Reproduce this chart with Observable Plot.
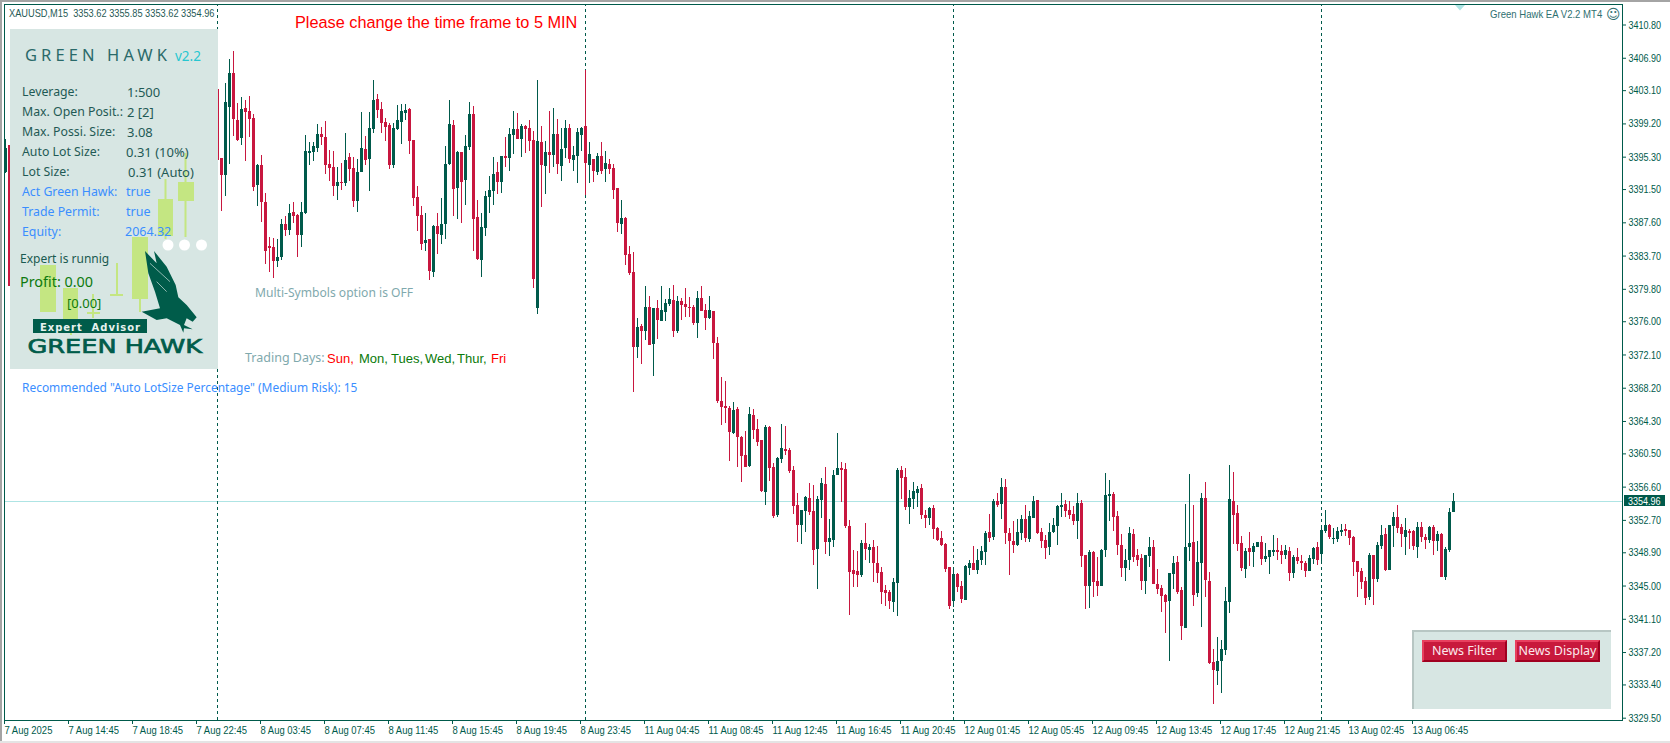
<!DOCTYPE html>
<html>
<head>
<meta charset="utf-8">
<script src="https://cdn.jsdelivr.net/npm/d3@7"></script>
<script src="https://cdn.jsdelivr.net/npm/@observablehq/plot@0.6"></script>
<style>
html,body{margin:0;padding:0;background:#fff;overflow:hidden}
#root{position:relative;width:1670px;height:743px;overflow:hidden;background:#fff}
#root svg{display:block}
.ov{position:absolute;white-space:nowrap;transform:translateY(-50%);line-height:1}
.box{position:absolute;box-sizing:border-box}
.chartfont text{font-family:"Liberation Sans",sans-serif;font-size:11px}
</style>
</head>
<body>
<div id="root"></div>
<script>
// Chart values: bars 0-1, then bars 53-362 (bars 2-52 are behind the panel)
const highs=[3397.4,3396.7,3403.2,
3395.1,3403.9,3406.8,3407.7,3401.6,3402.3,3401.9,3402.4,3400.3,3394.4,
3395.5,3391.0,3385.9,3385.8,3385.6,3388.0,3388.3,3389.7,3390.0,3388.6,
3390.0,3397.8,3397.0,3397.0,3399.1,3398.8,3399.5,3396.1,3396.0,3394.1,
3394.6,3398.1,3395.7,3395.3,3395.0,3400.5,3397.7,3400.5,3404.3,3402.6,
3401.7,3399.8,3399.2,3399.2,3401.4,3401.5,3401.5,3401.0,3397.3,3391.9,
3389.5,3388.7,3385.6,
3387.3,3388.7,3390.5,3396.6,3402.0,3399.6,3396.0,3395.9,3397.8,3401.7,
3401.2,3390.2,3388.7,3391.3,3393.0,3395.3,3394.7,3395.4,3397.6,3398.7,
3400.7,3400.4,3399.1,3399.0,3399.6,3398.3,3404.3,3398.9,3397.1,3400.7,
3401.0,3399.7,3398.7,3399.6,3399.1,3396.6,3398.7,3398.8,3405.5,3397.0,
3395.0,3395.7,3397.0,3396.0,3395.0,3394.4,3391.6,3390.2,3388.2,3384.8,
3384.1,3376.4,3375.7,3380.1,3379.0,3377.6,3378.5,3380.1,3378.6,3379.9,
3380.3,3379.0,3378.7,3379.9,3378.8,3377.9,3379.6,3380.1,3378.0,3379.0,
3377.2,3374.2,3369.5,3369.0,3366.1,3366.5,3365.9,3362.5,3363.1,3365.9,
3365.7,3364.5,3362.1,3363.8,3363.7,3359.4,3360.1,3364.0,3363.7,3361.1,
3359.0,3355.9,3353.9,3355.5,3357.0,3356.8,3355.5,3357.6,3358.9,3352.8,
3358.6,3362.9,3359.5,3359.4,3352.7,3349.2,3349.0,3350.3,3352.3,3349.9,
3350.3,3349.6,3347.2,3345.1,3344.5,3345.9,3358.8,3359.0,3358.8,3356.2,
3357.2,3356.7,3356.9,3353.9,3354.2,3354.5,3351.9,3351.4,3350.0,3347.2,
3347.1,3346.5,3345.5,3347.4,3348.0,3349.6,3349.3,3349.6,3351.4,3353.4,
3355.2,3355.9,3357.6,3357.5,3351.8,3352.6,3352.8,3353.3,3354.5,3353.7,
3355.5,3355.0,3351.8,3350.9,3352.3,3352.9,3354.5,3355.9,3355.0,3354.9,
3354.3,3355.9,3355.0,3348.6,3349.2,3349.0,3348.3,3349.3,3358.2,3357.4,
3356.0,3353.7,3351.1,3349.3,3351.9,3351.6,3349.3,3348.7,3348.6,3350.7,
3350.3,3346.9,3345.1,3344.0,3346.5,3348.5,3348.5,3344.8,3354.6,3358.1,
3354.5,3350.2,3355.9,3357.1,3346.6,3337.6,3339.0,3338.6,3344.8,3359.1,
3358.3,3354.5,3350.8,3349.4,3351.3,3350.0,3350.1,3350.8,3350.0,3349.2,
3350.9,3350.6,3349.8,3349.8,3349.5,3348.6,3349.4,3348.6,3347.9,3348.6,
3349.5,3350.1,3352.0,3353.9,3352.2,3351.7,3351.9,3352.2,3352.2,3351.5,
3350.8,3347.9,3347.1,3346.0,3348.8,3348.6,3350.1,3352.1,3351.7,3352.1,
3353.6,3354.4,3352.2,3352.9,3351.6,3351.5,3352.5,3352.5,3351.0,3352.0,
3352.1,3351.4,3351.2,3349.5,3354.1,3355.85];
const lows=[3393.4,3380.1,3394.9,
3388.9,3390.7,3394.4,3397.7,3397.1,3396.7,3394.8,3397.6,3391.3,3389.5,
3387.6,3382.7,3381.8,3381.1,3382.4,3383.2,3386.0,3386.1,3387.5,3383.5,
3384.7,3388.6,3394.3,3394.8,3395.8,3396.7,3393.3,3392.4,3390.7,3390.2,
3391.4,3391.9,3392.4,3389.4,3388.8,3393.5,3394.3,3391.3,3398.1,3399.8,
3398.1,3397.1,3393.9,3394.0,3398.4,3396.8,3399.6,3395.6,3389.5,3386.6,
3384.3,3384.2,3380.8,
3381.2,3383.9,3385.1,3385.6,3394.3,3388.3,3388.0,3387.5,3389.6,3396.1,
3384.2,3383.2,3381.2,3386.0,3388.7,3389.6,3390.9,3391.0,3394.1,3393.6,
3395.6,3397.4,3395.3,3395.7,3396.0,3379.9,3376.9,3389.4,3390.9,3393.4,
3394.1,3393.3,3392.4,3395.1,3394.6,3393.6,3392.2,3396.0,3390.8,3392.2,
3392.3,3393.2,3393.3,3392.3,3393.3,3390.3,3386.5,3386.2,3382.6,3381.4,
3367.7,3371.7,3371.0,3373.8,3373.2,3369.6,3373.9,3376.0,3376.0,3377.8,
3374.2,3374.6,3376.1,3376.5,3376.5,3375.6,3374.0,3377.2,3375.0,3376.3,
3371.6,3366.4,3363.8,3364.1,3359.6,3362.8,3358.9,3357.1,3358.9,3358.9,
3362.2,3361.4,3356.0,3354.4,3357.3,3352.9,3353.0,3359.4,3360.3,3358.2,
3353.4,3350.1,3349.9,3351.3,3353.3,3347.4,3344.6,3352.9,3348.7,3348.5,
3349.5,3358.0,3354.8,3351.7,3341.5,3344.8,3344.8,3346.0,3348.0,3347.6,
3345.4,3345.3,3342.8,3342.6,3342.3,3341.9,3341.4,3355.2,3353.9,3352.2,
3354.0,3354.2,3352.8,3351.8,3352.1,3350.5,3350.2,3349.6,3346.6,3342.3,
3342.5,3344.2,3343.0,3343.3,3346.2,3346.8,3346.4,3347.4,3347.4,3350.1,
3350.3,3354.2,3352.8,3349.9,3346.2,3348.8,3349.6,3350.3,3350.1,3350.1,
3352.9,3351.1,3349.4,3348.1,3348.6,3351.2,3349.8,3353.0,3353.0,3352.8,
3352.1,3350.5,3347.2,3342.3,3342.4,3343.7,3343.8,3345.0,3348.3,3352.6,
3351.4,3348.6,3346.0,3345.5,3346.8,3347.8,3347.3,3344.5,3344.0,3347.2,
3345.2,3344.0,3341.9,3339.4,3336.1,3344.6,3344.0,3338.6,3340.0,3347.9,
3342.6,3343.7,3340.1,3343.7,3335.8,3331.1,3333.3,3332.4,3336.9,3341.8,
3349.9,3349.1,3346.7,3345.9,3347.3,3347.2,3349.5,3347.4,3347.8,3346.4,
3348.5,3348.0,3347.5,3348.1,3345.5,3345.9,3347.5,3346.8,3346.0,3346.7,
3347.5,3347.4,3347.5,3351.2,3350.5,3349.9,3350.1,3350.8,3350.8,3349.8,
3346.1,3343.7,3344.6,3342.7,3343.3,3342.7,3345.4,3349.3,3346.7,3346.8,
3349.5,3351.2,3349.5,3348.6,3349.3,3349.2,3348.2,3350.1,3349.3,3350.0,
3348.6,3349.1,3346.0,3345.7,3348.9,3353.62];
const opens=[3393.5,3396.7,3403.2,
3395.1,3393.1,3401.1,3405.1,3399.6,3397.5,3401.0,3400.6,3399.8,3392.0,
3394.3,3390.0,3384.8,3384.7,3383.1,3383.5,3387.4,3386.7,3388.8,3388.5,
3386.1,3388.7,3395.7,3395.8,3396.3,3398.0,3397.6,3394.4,3394.1,3391.9,
3392.3,3392.2,3395.3,3394.0,3390.1,3393.5,3396.2,3395.0,3398.5,3402.1,
3400.9,3399.4,3399.0,3394.3,3398.5,3399.4,3400.4,3400.9,3397.3,3390.6,
3388.5,3385.2,3385.6,
3381.8,3387.2,3386.1,3387.4,3394.4,3399.0,3391.6,3395.9,3392.6,3396.4,
3400.3,3388.2,3383.2,3386.9,3390.6,3391.3,3393.5,3392.3,3395.4,3395.1,
3397.8,3398.6,3397.4,3398.9,3398.7,3397.3,3377.6,3397.0,3394.2,3395.9,
3395.5,3398.0,3394.2,3396.3,3398.7,3394.9,3395.4,3397.8,3398.9,3394.3,
3395.0,3393.5,3395.4,3393.9,3394.4,3394.0,3391.6,3387.4,3388.1,3383.9,
3381.8,3373.0,3375.4,3374.9,3377.7,3373.3,3377.6,3376.0,3377.1,3378.0,
3378.5,3374.9,3378.4,3378.0,3377.7,3377.7,3375.8,3378.7,3377.3,3376.4,
3377.2,3373.4,3366.6,3366.1,3365.8,3362.9,3365.7,3362.4,3360.3,3359.0,
3365.0,3363.4,3362.1,3356.0,3363.6,3358.9,3353.3,3359.8,3361.0,3360.9,
3358.6,3354.4,3352.1,3353.7,3355.3,3353.7,3349.3,3355.0,3356.9,3350.1,
3350.3,3358.0,3358.8,3358.7,3352.0,3346.8,3346.7,3346.2,3350.0,3349.2,
3349.5,3347.6,3346.6,3344.5,3344.2,3343.1,3345.3,3358.6,3357.7,3354.2,
3355.2,3355.9,3356.4,3353.3,3352.9,3354.1,3351.8,3350.6,3349.9,3347.2,
3343.2,3346.4,3345.0,3343.3,3347.1,3347.6,3346.8,3348.0,3348.9,3351.3,
3350.7,3354.9,3354.6,3356.6,3351.2,3350.2,3349.8,3351.2,3352.8,3350.5,
3352.9,3355.0,3351.3,3350.3,3349.5,3351.3,3352.0,3354.2,3354.6,3353.9,
3353.4,3352.6,3354.7,3348.6,3345.0,3348.9,3345.5,3345.0,3349.2,3355.5,
3355.7,3353.2,3349.8,3347.1,3348.0,3351.1,3348.6,3348.2,3345.5,3348.5,
3349.5,3345.2,3344.7,3343.9,3343.2,3346.4,3347.8,3344.5,3340.0,3349.5,
3350.1,3344.1,3347.6,3355.3,3345.5,3336.0,3335.0,3336.1,3337.4,3343.1,
3354.9,3353.5,3350.0,3346.9,3349.4,3348.9,3349.5,3350.1,3348.1,3348.3,
3348.9,3349.2,3349.1,3348.6,3349.1,3346.5,3348.3,3347.9,3347.6,3346.7,
3348.1,3349.5,3348.7,3351.4,3352.1,3350.5,3350.5,3351.3,3351.6,3351.5,
3350.7,3347.9,3346.7,3345.5,3343.7,3348.6,3345.8,3349.6,3351.0,3346.8,
3352.0,3353.0,3351.9,3350.7,3351.4,3351.4,3349.5,3351.9,3350.7,3350.3,
3351.9,3350.2,3351.0,3346.0,3349.2,3353.62];
const closes=[3396.3,3380.1,3394.9,
3393.1,3401.7,3405.1,3399.7,3397.3,3400.9,3400.5,3399.7,3391.7,3394.3,
3390.0,3384.2,3384.6,3383.1,3383.5,3387.4,3386.7,3388.7,3388.3,3386.1,
3388.8,3396.0,3396.0,3396.5,3398.0,3397.6,3394.3,3394.0,3391.9,3392.3,
3392.2,3394.9,3393.9,3390.1,3393.5,3396.3,3394.9,3398.7,3401.9,3400.8,
3399.2,3398.8,3394.3,3398.7,3399.6,3400.6,3400.8,3397.1,3390.4,3388.3,
3385.0,3385.5,3381.9,
3387.2,3386.2,3387.4,3394.4,3399.1,3391.5,3395.9,3392.3,3396.6,3400.3,
3388.0,3383.3,3387.1,3390.7,3391.4,3393.3,3392.3,3395.4,3395.1,3398.0,
3398.6,3397.4,3398.9,3398.6,3397.1,3381.0,3397.1,3394.3,3395.9,3395.5,
3398.0,3394.4,3396.2,3398.7,3395.0,3395.5,3398.2,3398.7,3394.6,3395.6,
3393.6,3395.4,3393.6,3394.6,3393.9,3391.4,3387.5,3388.1,3383.8,3381.7,
3373.0,3375.3,3374.9,3377.7,3373.2,3377.6,3376.1,3377.3,3378.1,3378.6,
3374.9,3378.4,3377.9,3377.7,3377.6,3375.8,3378.7,3377.2,3376.4,3377.3,
3373.4,3366.6,3365.9,3365.8,3363.0,3365.6,3362.4,3360.2,3358.9,3365.1,
3363.2,3361.8,3356.1,3363.6,3358.8,3353.2,3360.0,3361.1,3360.8,3358.4,
3354.3,3352.1,3353.9,3355.4,3353.6,3349.2,3355.1,3357.0,3350.1,3350.6,
3358.0,3358.8,3358.6,3352.0,3346.6,3346.4,3346.2,3350.0,3349.3,3349.5,
3347.6,3346.5,3344.2,3344.1,3343.2,3345.4,3358.6,3357.6,3354.2,3355.3,
3356.1,3356.3,3353.3,3352.9,3354.1,3351.6,3350.3,3349.8,3346.9,3342.6,
3346.4,3344.8,3343.4,3347.3,3347.6,3346.8,3348.0,3349.1,3351.2,3350.6,
3354.9,3354.5,3356.6,3351.2,3350.2,3349.8,3351.3,3352.8,3350.6,3353.2,
3354.9,3351.2,3350.2,3349.4,3351.3,3352.1,3354.3,3354.5,3353.7,3353.3,
3352.6,3354.7,3348.5,3345.0,3348.9,3345.4,3345.0,3349.2,3355.6,3355.7,
3353.0,3349.8,3347.1,3348.0,3351.2,3348.3,3348.0,3345.5,3348.6,3349.5,
3345.2,3344.6,3343.8,3343.1,3346.5,3347.6,3344.2,3340.3,3349.5,3350.0,
3343.9,3347.8,3355.3,3345.6,3335.9,3335.1,3336.1,3337.6,3343.2,3355.2,
3353.3,3349.9,3347.1,3349.1,3348.9,3349.6,3350.1,3348.1,3348.5,3349.2,
3349.2,3348.9,3348.6,3349.2,3346.5,3348.3,3347.9,3347.6,3346.7,3348.2,
3349.4,3348.0,3351.5,3352.1,3350.7,3350.6,3351.4,3351.5,3351.4,3350.6,
3347.8,3346.6,3345.4,3343.5,3348.6,3345.8,3349.8,3350.9,3346.8,3352.1,
3353.0,3351.8,3351.0,3351.5,3351.2,3349.6,3351.9,3350.7,3350.3,3351.9,
3350.2,3351.0,3346.0,3349.3,3353.6,3354.96];
const HIDDEN_BARS = 51;
const priceTicks=[3410.8,3406.9,3403.1,3399.2,3395.3,3391.5,3387.6,3383.7,3379.8,3376.0,3372.1,3368.2,3364.3,3360.5,3356.6,3352.7,3348.9,3345.0,3341.1,3337.2,3333.4,3329.5];
const timeLabels=["7 Aug 2025","7 Aug 14:45","7 Aug 18:45","7 Aug 22:45","8 Aug 03:45","8 Aug 07:45","8 Aug 11:45","8 Aug 15:45","8 Aug 19:45","8 Aug 23:45","11 Aug 04:45","11 Aug 08:45","11 Aug 12:45","11 Aug 16:45","11 Aug 20:45","12 Aug 01:45","12 Aug 05:45","12 Aug 09:45","12 Aug 13:45","12 Aug 17:45","12 Aug 21:45","13 Aug 02:45","13 Aug 06:45"];
const BARS_PER_LABEL = 16;
const periodBars=[53,145,237,329];
const lastPrice=3354.96;

const TEAL="#005a4b", RED="#c8173f", PANEL="#d7e6e3", PRICE_LINE="#aee4e4", LEAF="#c4e682", BLUE="#3a8eff";

const candles=opens.map((o,k)=>({i:k<2?k:k+HIDDEN_BARS,o,h:highs[k],l:lows[k],c:closes[k],up:closes[k]>=o}));
const tickIdx=timeLabels.map((_,n)=>n*BARS_PER_LABEL);

const chart=Plot.plot({
  width:1670,height:743,marginLeft:4,marginRight:48,marginTop:4,marginBottom:23,
  style:{background:"transparent"},
  x:{domain:[0,404],range:[5,1621]},
  y:{domain:[3329.5,3410.8],range:[717.7,24.5]},
  color:{domain:[true,false],range:[TEAL,RED]},
  marks:[
    Plot.ruleY([lastPrice],{stroke:PRICE_LINE,strokeWidth:1,shapeRendering:"crispEdges"}),
    Plot.ruleX(periodBars,{stroke:TEAL,strokeWidth:1,strokeDasharray:"3,3",y1:3329.5-0.3,y2:3410.8+2.3,shapeRendering:"crispEdges"}),
    Plot.ruleX(candles,{x:"i",y1:"l",y2:"h",stroke:"up",strokeWidth:1,shapeRendering:"crispEdges"}),
    Plot.ruleX(candles,{x:"i",y1:"o",y2:"c",stroke:"up",strokeWidth:3,shapeRendering:"crispEdges"}),
    Plot.frame({stroke:TEAL,strokeWidth:1}),
    Plot.axisY({anchor:"right",ticks:priceTicks,tickFormat:d=>d.toFixed(2),tickSize:3,tickPadding:3,color:TEAL,label:null}),
    Plot.axisX({anchor:"bottom",ticks:tickIdx,tickFormat:i=>timeLabels[i/BARS_PER_LABEL],tickSize:4,tickPadding:2,color:TEAL,textAnchor:"start",dx:-1,label:null})
  ]
});
chart.classList.add("chartfont");
const root=document.getElementById("root");
root.appendChild(chart);
chart.style.position="absolute";chart.style.left="0";chart.style.top="0";

// the reference's tick font is narrower than any installed family
function narrow(sel,ratio){
  chart.querySelectorAll(sel).forEach(t=>{
    t.setAttribute("lengthAdjust","spacingAndGlyphs");
    t.setAttribute("textLength",(t.getComputedTextLength()*ratio).toFixed(1));
  });
}
narrow('g[aria-label="y-axis tick label"] text',0.82);
narrow('g[aria-label="x-axis tick label"] text',0.86);

function box(x,y,w,h,css){const d=document.createElement("div");d.className="box";d.style.cssText=`left:${x}px;top:${y}px;width:${w}px;height:${h}px;${css||""}`;root.appendChild(d);return d;}
function txt(x,cy,s,css){const d=document.createElement("div");d.className="ov";d.style.cssText=`left:${x}px;top:${cy}px;${css||""}`;d.innerHTML=s;root.appendChild(d);return d;}
const squeeze=r=>`transform:translateY(-50%) scaleX(${r});transform-origin:left center;`;

// window edges
box(0,0,1670,2,"background:#a4a4a4");
box(0,0,2,743,"background:#a4a4a4");
box(0,741,1670,2,"background:#e4e4e4");

const UI='font-family:"Noto Sans",sans-serif;';
// panel
box(10,29,208,340,"background:"+PANEL);
const NS="http://www.w3.org/2000/svg";
const deco=document.createElementNS(NS,"svg");
deco.setAttribute("width",208);deco.setAttribute("height",340);deco.setAttribute("viewBox","10 29 208 340");
deco.style.cssText="position:absolute;left:10px;top:29px";
deco.innerHTML=`
<g fill="${LEAF}" stroke="none">
<rect x="158" y="199" width="15" height="37"/><rect x="164.5" y="179" width="2" height="60"/>
<rect x="178" y="182" width="16" height="19"/><rect x="184.5" y="153" width="2" height="84"/>
<rect x="132" y="237" width="16" height="62"/><rect x="139" y="299" width="2" height="13"/>
<rect x="40" y="265" width="16" height="47"/>
<rect x="63" y="288" width="15" height="40"/><rect x="70" y="328" width="2" height="7"/>
<rect x="116" y="263" width="2" height="33"/><rect x="110" y="294" width="13" height="2"/>
<rect x="92" y="294" width="2" height="24"/><rect x="87" y="312" width="13" height="2"/>
</g>
<g fill="#fff"><circle cx="168" cy="245" r="5.5"/><circle cx="184.5" cy="245" r="5.5"/><circle cx="201.5" cy="245" r="5.5"/></g>
<g transform="translate(0,210) scale(.33333)">
<path fill="#005c4a" d="M435 123 L470 160 L462 123 L500 170 L527 225 L535 262 L560 285 L590 322 L578 335 L560 325 L552 345 L578 358 L552 355 L550 368 L540 345 L500 325 L470 330 L425 305 L480 295 L465 245 L445 190 Z"/>
<path fill="none" stroke="#d7e6e3" stroke-width="2" d="M450 160 L510 215 M470 215 L500 245"/>
</g>
<rect x="33" y="319" width="114" height="14" fill="#005c4a"/>
<text x="40" y="330.5" font-family="DejaVu Sans" font-weight="bold" font-size="10" fill="#e8f2ef" textLength="100" lengthAdjust="spacing" xml:space="preserve">Expert  Advisor</text>
<text x="27.5" y="353" font-family="DejaVu Sans" font-size="20" fill="#005c4a" stroke="#005c4a" stroke-width=".7" textLength="174.5" lengthAdjust="spacingAndGlyphs">GREEN HAWK</text>
`;
root.appendChild(deco);

const ROW=UI+"font-size:12.3px;color:#1f5a55;";
const VAL=UI+"font-size:13px;color:#1f5a55;";
const ROWB=UI+"font-size:12.3px;color:"+BLUE+";";
const VALB=UI+"font-size:12.5px;color:"+BLUE+";";
txt(25,55,"GREEN HAWK",UI+"font-size:16.5px;letter-spacing:4.1px;color:#2a6a6a");
txt(175,57,"v2.2",UI+"font-size:13.5px;color:#27c6d0");
[[92,"Leverage:",127,"1:500"],[112,"Max. Open Posit.:",127,"2 [2]"],[132,"Max. Possi. Size:",127,"3.08"],[152,"Auto Lot Size:",126,"0.31 (10%)"],[172,"Lot Size:",128,"0.31 (Auto)"]].forEach(r=>{txt(22,r[0],r[1],ROW);txt(r[2],r[0],r[3],VAL);});
[[192,"Act Green Hawk:",126,"true"],[212,"Trade Permit:",126,"true"],[232,"Equity:",125,"2064.32"]].forEach(r=>{txt(22,r[0],r[1],ROWB);txt(r[2],r[0],r[3],VALB);});
txt(20,259,"Expert is runnig",UI+"font-size:12px;color:#1a5a50");
txt(20,282,"Profit: 0.00",UI+"font-size:14.4px;color:#0e7a0e");
txt(67,303,"[0.00]",UI+"font-size:13px;color:#0e7a0e");

// header and notes
const HEAD='font-family:"Liberation Sans",sans-serif;font-size:11px;color:#1f5a55;';
txt(9,12.5,"XAUUSD,M15&nbsp;&nbsp;3353.62 3355.85 3353.62 3354.96",HEAD+squeeze(0.84));
txt(295,22,"Please change the time frame to 5 MIN",'font-family:"Liberation Sans",sans-serif;font-size:16.3px;color:#f00');
txt(255,293,"Multi-Symbols option is OFF",UI+"font-size:12.1px;color:#7fa9ad");
txt(245,358,"Trading Days:",UI+"font-size:12.5px;color:#7fa9ad");
const DAY='font-family:"Liberation Sans",sans-serif;font-size:13px;';
[[327,"Sun,","#f00"],[359,"Mon,","#0a7a0a"],[391,"Tues,","#0a7a0a"],[425,"Wed,","#0a7a0a"],[457,"Thur,","#0a7a0a"],[491,"Fri","#f00"]].forEach(d=>txt(d[0],358,d[1],DAY+"color:"+d[2]));
txt(22,388,'Recommended "Auto LotSize Percentage" (Medium Risk): 15',UI+"font-size:11.95px;color:"+BLUE);
txt(1490,14,"Green Hawk EA V2.2 MT4",HEAD+"color:#2f6f70;"+squeeze(0.87));
txt(1606,14,"☺",'font-family:"DejaVu Sans";font-size:14px;color:#2f6f70');

// last price tag and the marker at the top
box(1624,495,41,11,"background:"+TEAL);
txt(1628,500.5,"3354.96",HEAD+"color:#fff;"+squeeze(0.82));
const tri=document.createElementNS(NS,"svg");
tri.setAttribute("width",10);tri.setAttribute("height",6);
tri.style.cssText="position:absolute;left:1455px;top:5px";
tri.innerHTML=`<path d="M0 0H10L5 5.5Z" fill="${PRICE_LINE}"/>`;
root.appendChild(tri);

// news panel
box(1412,630,199,79,`background:${PANEL};border-top:2px solid #b7c6c3;border-left:2px solid #b7c6c3`);
function button(x,label){
  box(x,640,85,22,"background:#c8193c;border-top:2px solid #e8405f;border-left:2px solid #e8405f;border-right:2px solid #a00020;border-bottom:2px solid #a00020");
  txt(x+42.5,651,label,UI+"font-size:12.5px;color:#fbe9ec;transform:translate(-50%,-50%)");
}
button(1422,"News Filter");
button(1515,"News Display");
</script>
</body>
</html>
